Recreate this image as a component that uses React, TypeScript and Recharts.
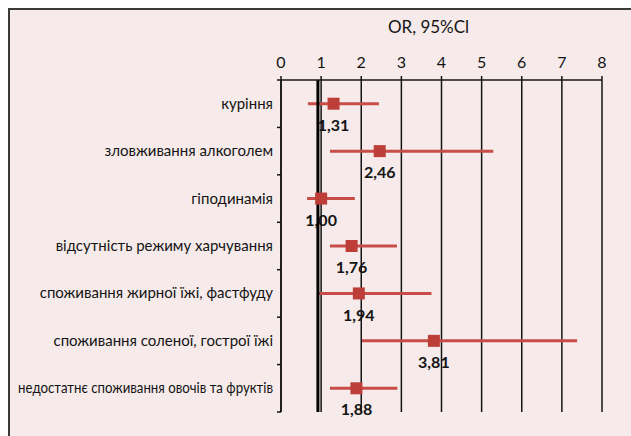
import {
  CartesianGrid,
  ComposedChart,
  ErrorBar,
  LabelList,
  ReferenceLine,
  Scatter,
  XAxis,
  YAxis,
  ZAxis,
} from "recharts"

// risk factors, top to bottom
const factors = [
  "куріння",
  "зловживання алкоголем",
  "гіподинамія",
  "відсутність режиму харчування",
  "споживання жирної їжі, фастфуду",
  "споживання соленої, гострої їжі",
  "недостатнє споживання овочів та фруктів",
]
const oddsRatio = [1.31, 2.46, 1.0, 1.76, 1.94, 3.81, 1.88]
const ciLow = [0.67, 1.22, 0.65, 1.22, 0.92, 2.02, 1.22]
const ciHigh = [2.44, 5.29, 1.84, 2.89, 3.75, 7.38, 2.9]
const xTicks = [0, 1, 2, 3, 4, 5, 6, 7, 8]
const refValue = 0.92

const data = factors.map((factor, i) => ({
  factor,
  or: oddsRatio[i],
  ci: [oddsRatio[i] - ciLow[i], ciHigh[i] - oddsRatio[i]],
  label: oddsRatio[i].toFixed(2).replace(".", ","),
}))

const FONT = "Lato, 'Open Sans', sans-serif"
const INK = "#141414"

const CategoryTick = (props: any) => {
  const { x, y, payload, index, height, visibleTicksCount } = props
  // tick marks sit on the band edges, labels in the middle
  const half = payload?.offset || (height && visibleTicksCount ? height / visibleTicksCount / 2 : 0)
  const axisX = x + 8
  const squeeze = payload.value.length > 35 ? { textLength: 255, lengthAdjust: "spacingAndGlyphs" } : {}
  return (
    <g>
      <text x={x} y={y} dy={5} textAnchor="end" fontSize={15} fontFamily={FONT} fill={INK} {...squeeze}>
        {payload.value}
      </text>
      <line x1={axisX - 4} x2={axisX} y1={y + half} y2={y + half} stroke={INK} strokeWidth={1.5} />
      {index === 0 && (
        <line x1={axisX - 4} x2={axisX} y1={y - half} y2={y - half} stroke={INK} strokeWidth={1.5} />
      )}
    </g>
  )
}

export default function App() {
  return (
    <div
      style={{
        position: "fixed",
        left: 8,
        top: 8,
        width: 621,
        height: 426,
        borderTop: "2px solid #3a3a3a",
        borderLeft: "2px solid #3a3a3a",
        background: "#f6ebea",
      }}
    >
      <ComposedChart
        width={621}
        height={426}
        data={data}
        layout="vertical"
        margin={{ top: 0, right: 29, bottom: 24, left: 0 }}
      >
        <CartesianGrid horizontal={false} stroke={INK} strokeWidth={1.5} />
        <XAxis
          type="number"
          dataKey="or"
          orientation="top"
          domain={[0, 8]}
          ticks={xTicks}
          interval={0}
          height={70}
          tickSize={4}
          tickMargin={8}
          axisLine={{ stroke: INK, strokeWidth: 1.5 }}
          tickLine={{ stroke: INK, strokeWidth: 1.5 }}
          tick={{ fontSize: 16, fontFamily: FONT, fill: INK }}
          label={{
            value: "OR, 95%Cl",
            position: "insideTop",
            offset: 11,
            dx: -13,
            fontSize: 17,
            fontFamily: FONT,
            fill: INK,
          }}
        />
        <YAxis
          type="category"
          dataKey="factor"
          scale="band"
          width={271}
          interval={0}
          tickSize={3}
          tickMargin={5}
          tickLine={false}
          axisLine={{ stroke: INK, strokeWidth: 1.5 }}
          tick={<CategoryTick />}
        />
        <ZAxis range={[144, 144]} />
        <Scatter dataKey="or" fill="#bd3d38" shape="square" isAnimationActive={false}>
          <ErrorBar dataKey="ci" direction="x" width={0} stroke="#c84d49" strokeWidth={3} />
          <LabelList
            dataKey="label"
            position="bottom"
            offset={9}
            fontSize={16}
            fontWeight="bold"
            fontFamily={FONT}
            fill={INK}
          />
        </Scatter>
        <ReferenceLine x={refValue} stroke="#000" strokeWidth={3} />
      </ComposedChart>
    </div>
  )
}
